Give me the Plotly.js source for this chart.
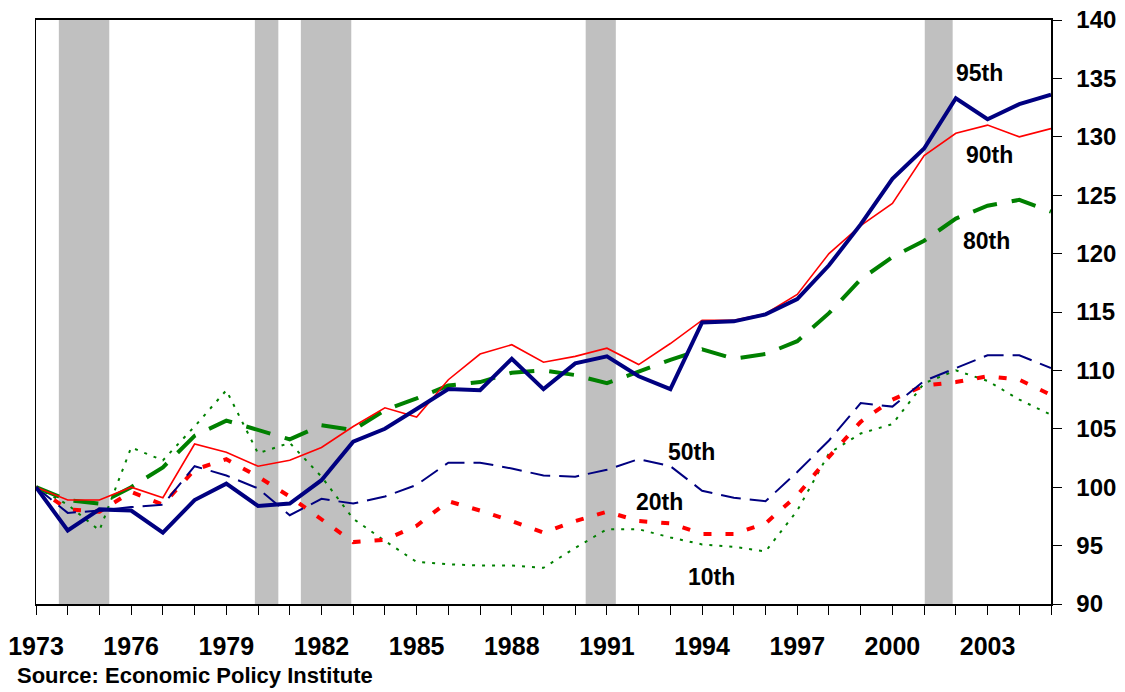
<!DOCTYPE html>
<html>
<head>
<meta charset="utf-8">
<script src="https://cdn.plot.ly/plotly-3.0.1.min.js"></script>
<style>html,body{margin:0;padding:0;background:#fff;}#chart{width:1125px;height:692px;}</style>
</head>
<body>
<div id="chart"></div>
<script>
const years = [1973,1974,1975,1976,1977,1978,1979,1980,1981,1982,1983,1984,1985,1986,1987,1988,1989,1990,1991,1992,1993,1994,1995,1996,1997,1998,1999,2000,2001,2002,2003,2004,2005];
const p95 = [100,96.3,98.1,98.0,96.1,98.9,100.3,98.4,98.6,100.6,103.9,105.0,106.7,108.4,108.3,111.0,108.4,110.6,111.2,109.5,108.4,114.1,114.2,114.8,116.1,119.0,122.5,126.4,129.0,133.3,131.5,132.8,133.6];
const p90 = [100,98.9,98.9,100.0,99.1,103.7,103.0,101.8,102.3,103.4,105.2,106.8,106.0,109.2,111.4,112.2,110.7,111.2,111.9,110.5,112.3,114.3,114.3,114.85,116.5,120.0,122.4,124.3,128.4,130.3,131.0,130.0,130.7];
const p80 = [100,98.9,98.6,100.0,101.7,104.4,105.7,104.9,104.1,105.3,104.9,106.6,107.6,108.7,109.0,109.8,110.0,109.6,108.9,109.9,110.9,111.8,111.0,111.4,112.5,114.9,117.8,119.7,121.1,123.0,124.1,124.6,123.6];
const p50 = [100,97.8,98.0,98.3,98.5,101.8,101.0,99.9,97.6,99.0,98.6,99.2,100.2,102.1,102.1,101.6,101.0,100.9,101.5,102.4,101.8,99.7,99.1,98.8,101.3,104.0,107.2,106.9,109.1,110.2,111.3,111.3,110.2];
const p20 = [100,98.1,97.9,99.6,98.5,101.5,102.4,100.9,99.2,97.2,95.3,95.5,96.7,98.8,98.0,97.1,96.1,97.1,97.9,97.1,96.9,96.0,96.0,96.9,99.3,102.6,105.6,107.5,108.7,109.0,109.5,109.2,107.9];
const p10 = [100,98.5,96.3,103.4,102.3,105.2,108.3,102.9,103.8,100.9,97.3,95.4,93.6,93.4,93.3,93.3,93.1,94.8,96.4,96.4,95.7,95.1,94.9,94.5,98.0,102.9,104.6,105.4,108.9,110.0,109.1,107.5,106.2];

const recStart = [1973.72, 1979.90, 1981.35, 1990.33, 2001.02];
const recEnd   = [1975.31, 1980.64, 1982.94, 1991.28, 2001.90];

const tickYears = years;
const tickLabels = years.map(y => ((y - 1973) % 3 === 0 && y <= 2003) ? String(y) : '');

const seriesLabels = ['95th','90th','80th','50th','20th','10th'];
const labelX = [2002.75, 2003.07, 2002.97, 1993.67, 1992.67, 1994.3];
const labelY = [135.45, 128.45, 121.05, 103.05, 98.7, 92.3];

const FONT = 'Liberation Sans, Arial, sans-serif';

const traces = [
  {x: years, y: p10, mode:'lines', line:{color:'#008000', width:2, dash:'3px,7px'}},
  {x: years, y: p20, mode:'lines', line:{color:'#FF0000', width:4, dash:'8px,14px'}},
  {x: years, y: p50, mode:'lines', line:{color:'#000080', width:2, dash:'20px,9px'}},
  {x: years, y: p80, mode:'lines', line:{color:'#008000', width:4, dash:'25px,15px'}},
  {x: years, y: p90, mode:'lines', line:{color:'#FF0000', width:1.6}},
  {x: years, y: p95, mode:'lines', line:{color:'#000080', width:4}}
];

const shapes = recStart.map((s, i) => ({
  type:'rect', xref:'x', yref:'paper', x0:s, x1:recEnd[i], y0:0, y1:1,
  fillcolor:'#C0C0C0', line:{width:0}, layer:'below'
}));

const annotations = seriesLabels.map((t, i) => ({
  x: labelX[i], y: labelY[i], xref:'x', yref:'y', text: t, showarrow:false,
  font:{family:FONT, size:23, color:'#000', weight:'bold'}, xanchor:'center', yanchor:'middle'
}));
annotations.push({
  x: -0.0207, y: -0.122, xref:'paper', yref:'paper', xanchor:'left', yanchor:'middle',
  text:'Source: Economic Policy Institute', showarrow:false,
  font:{family:FONT, size:22, color:'#000', weight:'bold'}
});

const layout = {
  width:1125, height:692,
  margin:{l:36, r:74, t:20, b:88},
  paper_bgcolor:'#fff', plot_bgcolor:'#fff',
  showlegend:false,
  font:{family:FONT, color:'#000'},
  xaxis:{
    range:[1973, 2005], tickmode:'array', tickvals:tickYears, ticktext:tickLabels,
    ticks:'outside', ticklen:9, tickwidth:1, tickcolor:'#000',
    showline:true, linecolor:'#000', linewidth:2, mirror:true,
    showgrid:false, zeroline:false, ticklabelstandoff:10,
    tickfont:{family:FONT, size:25, color:'#000', weight:'bold'}
  },
  yaxis:{
    range:[90, 140], side:'right', tickmode:'linear', tick0:90, dtick:5,
    ticks:'outside', ticklen:9, tickwidth:1, tickcolor:'#000',
    showline:true, linecolor:'#000', linewidth:1.5, mirror:true,
    showgrid:false, zeroline:false, ticklabelstandoff:10,
    tickfont:{family:FONT, size:24, color:'#000', weight:'bold'}
  },
  shapes: shapes,
  annotations: annotations
};

Plotly.newPlot('chart', traces, layout, {displayModeBar:false, staticPlot:true});
</script>
</body>
</html>
